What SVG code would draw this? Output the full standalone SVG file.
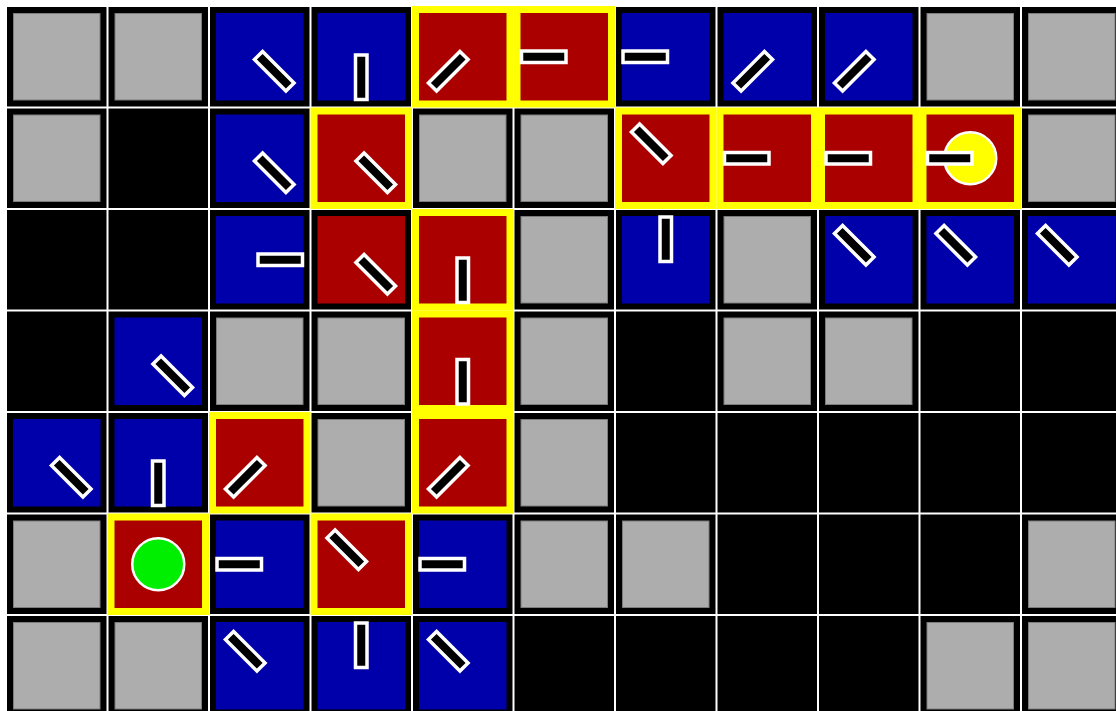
<svg xmlns="http://www.w3.org/2000/svg" xmlns:xlink="http://www.w3.org/1999/xlink" width="1116" height="711" viewBox="0 0 1116 711">
<style>
.k{fill:#000}
.y{fill:#ffff00}
.g{fill:#adadad;stroke:#7c7c7c;stroke-width:1}
.b{fill:#0000aa}
.r{fill:#aa0000}
.dot{stroke:#fff;stroke-width:2.5}
</style>
<defs>
<rect id="m" x="-1.75" y="-5.75" width="44.5" height="11.5" fill="#000" stroke="#fff" stroke-width="3.5"/>
<rect id="K" class="k" x="0" y="0" width="99.5" height="99.5"/>
<rect id="Yb" class="y" x="-1" y="-1" width="101.5" height="101.5"/>
<rect id="G" class="g" x="6.5" y="6.5" width="86.5" height="86.5"/>
<rect id="B" class="b" x="6" y="6" width="87.5" height="87.5"/>
<rect id="R" class="r" x="6" y="6" width="87.5" height="87.5"/>
</defs>
<rect x="0" y="0" width="1116" height="711" fill="#fff"/>
<g id="cells">
<!-- row 0 -->
<g id="c0-0" transform="translate(7,7)"><use href="#K"/><use href="#G"/></g>
<g id="c1-0" transform="translate(108.5,7)"><use href="#K"/><use href="#G"/></g>
<g id="c2-0" transform="translate(210,7)"><use href="#K"/><use href="#B"/><use href="#m" transform="translate(49.75,49.75) rotate(45)"/></g>
<g id="c3-0" transform="translate(311.5,7)"><use href="#K"/><use href="#B"/><use href="#m" transform="translate(49.75,49.75) rotate(90)"/></g>
<g id="c4-0" transform="translate(413,7)"><use href="#Yb"/><use href="#R"/><use href="#m" transform="translate(49.75,49.75) rotate(135)"/></g>
<g id="c5-0" transform="translate(514.5,7)"><use href="#Yb"/><use href="#R"/><use href="#m" transform="translate(49.75,49.75) rotate(180)"/></g>
<g id="c6-0" transform="translate(616,7)"><use href="#K"/><use href="#B"/><use href="#m" transform="translate(49.75,49.75) rotate(180)"/></g>
<g id="c7-0" transform="translate(717.5,7)"><use href="#K"/><use href="#B"/><use href="#m" transform="translate(49.75,49.75) rotate(135)"/></g>
<g id="c8-0" transform="translate(819,7)"><use href="#K"/><use href="#B"/><use href="#m" transform="translate(49.75,49.75) rotate(135)"/></g>
<g id="c9-0" transform="translate(920.5,7)"><use href="#K"/><use href="#G"/></g>
<g id="c10-0" transform="translate(1022,7)"><use href="#K"/><use href="#G"/></g>
<!-- row 1 -->
<g id="c0-1" transform="translate(7,108.5)"><use href="#K"/><use href="#G"/></g>
<g id="c1-1" transform="translate(108.5,108.5)"><use href="#K"/></g>
<g id="c2-1" transform="translate(210,108.5)"><use href="#K"/><use href="#B"/><use href="#m" transform="translate(49.75,49.75) rotate(45)"/></g>
<g id="c3-1" transform="translate(311.5,108.5)"><use href="#Yb"/><use href="#R"/><use href="#m" transform="translate(49.75,49.75) rotate(45)"/></g>
<g id="c4-1" transform="translate(413,108.5)"><use href="#K"/><use href="#G"/></g>
<g id="c5-1" transform="translate(514.5,108.5)"><use href="#K"/><use href="#G"/></g>
<g id="c6-1" transform="translate(616,108.5)"><use href="#Yb"/><use href="#R"/><use href="#m" transform="translate(49.75,49.75) rotate(225)"/></g>
<g id="c7-1" transform="translate(717.5,108.5)"><use href="#Yb"/><use href="#R"/><use href="#m" transform="translate(49.75,49.75) rotate(180)"/></g>
<g id="c8-1" transform="translate(819,108.5)"><use href="#Yb"/><use href="#R"/><use href="#m" transform="translate(49.75,49.75) rotate(180)"/></g>
<g id="c9-1" transform="translate(920.5,108.5)"><use href="#Yb"/><use href="#R"/><circle class="dot" cx="49.75" cy="49.75" r="26" fill="#ffff00"/><use href="#m" transform="translate(49.75,49.75) rotate(180)"/></g>
<g id="c10-1" transform="translate(1022,108.5)"><use href="#K"/><use href="#G"/></g>
<!-- row 2 -->
<g id="c0-2" transform="translate(7,210)"><use href="#K"/></g>
<g id="c1-2" transform="translate(108.5,210)"><use href="#K"/></g>
<g id="c2-2" transform="translate(210,210)"><use href="#K"/><use href="#B"/><use href="#m" transform="translate(49.75,49.75) rotate(0)"/></g>
<g id="c3-2" transform="translate(311.5,210)"><use href="#K"/><use href="#R"/><use href="#m" transform="translate(49.75,49.75) rotate(45)"/></g>
<g id="c4-2" transform="translate(413,210)"><use href="#Yb"/><use href="#R"/><use href="#m" transform="translate(49.75,49.75) rotate(90)"/></g>
<g id="c5-2" transform="translate(514.5,210)"><use href="#K"/><use href="#G"/></g>
<g id="c6-2" transform="translate(616,210)"><use href="#K"/><use href="#B"/><use href="#m" transform="translate(49.75,49.75) rotate(270)"/></g>
<g id="c7-2" transform="translate(717.5,210)"><use href="#K"/><use href="#G"/></g>
<g id="c8-2" transform="translate(819,210)"><use href="#K"/><use href="#B"/><use href="#m" transform="translate(49.75,49.75) rotate(225)"/></g>
<g id="c9-2" transform="translate(920.5,210)"><use href="#K"/><use href="#B"/><use href="#m" transform="translate(49.75,49.75) rotate(225)"/></g>
<g id="c10-2" transform="translate(1022,210)"><use href="#K"/><use href="#B"/><use href="#m" transform="translate(49.75,49.75) rotate(225)"/></g>
<!-- row 3 -->
<g id="c0-3" transform="translate(7,311.5)"><use href="#K"/></g>
<g id="c1-3" transform="translate(108.5,311.5)"><use href="#K"/><use href="#B"/><use href="#m" transform="translate(49.75,49.75) rotate(45)"/></g>
<g id="c2-3" transform="translate(210,311.5)"><use href="#K"/><use href="#G"/></g>
<g id="c3-3" transform="translate(311.5,311.5)"><use href="#K"/><use href="#G"/></g>
<g id="c4-3" transform="translate(413,311.5)"><use href="#Yb"/><use href="#R"/><use href="#m" transform="translate(49.75,49.75) rotate(90)"/></g>
<g id="c5-3" transform="translate(514.5,311.5)"><use href="#K"/><use href="#G"/></g>
<g id="c6-3" transform="translate(616,311.5)"><use href="#K"/></g>
<g id="c7-3" transform="translate(717.5,311.5)"><use href="#K"/><use href="#G"/></g>
<g id="c8-3" transform="translate(819,311.5)"><use href="#K"/><use href="#G"/></g>
<g id="c9-3" transform="translate(920.5,311.5)"><use href="#K"/></g>
<g id="c10-3" transform="translate(1022,311.5)"><use href="#K"/></g>
<!-- row 4 -->
<g id="c0-4" transform="translate(7,413)"><use href="#K"/><use href="#B"/><use href="#m" transform="translate(49.75,49.75) rotate(45)"/></g>
<g id="c1-4" transform="translate(108.5,413)"><use href="#K"/><use href="#B"/><use href="#m" transform="translate(49.75,49.75) rotate(90)"/></g>
<g id="c2-4" transform="translate(210,413)"><use href="#Yb"/><use href="#R"/><use href="#m" transform="translate(49.75,49.75) rotate(135)"/></g>
<g id="c3-4" transform="translate(311.5,413)"><use href="#K"/><use href="#G"/></g>
<g id="c4-4" transform="translate(413,413)"><use href="#Yb"/><use href="#R"/><use href="#m" transform="translate(49.75,49.75) rotate(135)"/></g>
<g id="c5-4" transform="translate(514.5,413)"><use href="#K"/><use href="#G"/></g>
<g id="c6-4" transform="translate(616,413)"><use href="#K"/></g>
<g id="c7-4" transform="translate(717.5,413)"><use href="#K"/></g>
<g id="c8-4" transform="translate(819,413)"><use href="#K"/></g>
<g id="c9-4" transform="translate(920.5,413)"><use href="#K"/></g>
<g id="c10-4" transform="translate(1022,413)"><use href="#K"/></g>
<!-- row 5 -->
<g id="c0-5" transform="translate(7,514.5)"><use href="#K"/><use href="#G"/></g>
<g id="c1-5" transform="translate(108.5,514.5)"><use href="#Yb"/><use href="#R"/><circle class="dot" cx="49.75" cy="49.75" r="26" fill="#00ee00"/></g>
<g id="c2-5" transform="translate(210,514.5)"><use href="#K"/><use href="#B"/><use href="#m" transform="translate(49.75,49.75) rotate(180)"/></g>
<g id="c3-5" transform="translate(311.5,514.5)"><use href="#Yb"/><use href="#R"/><use href="#m" transform="translate(49.75,49.75) rotate(225)"/></g>
<g id="c4-5" transform="translate(413,514.5)"><use href="#K"/><use href="#B"/><use href="#m" transform="translate(49.75,49.75) rotate(180)"/></g>
<g id="c5-5" transform="translate(514.5,514.5)"><use href="#K"/><use href="#G"/></g>
<g id="c6-5" transform="translate(616,514.5)"><use href="#K"/><use href="#G"/></g>
<g id="c7-5" transform="translate(717.5,514.5)"><use href="#K"/></g>
<g id="c8-5" transform="translate(819,514.5)"><use href="#K"/></g>
<g id="c9-5" transform="translate(920.5,514.5)"><use href="#K"/></g>
<g id="c10-5" transform="translate(1022,514.5)"><use href="#K"/><use href="#G"/></g>
<!-- row 6 -->
<g id="c0-6" transform="translate(7,616)"><use href="#K"/><use href="#G"/></g>
<g id="c1-6" transform="translate(108.5,616)"><use href="#K"/><use href="#G"/></g>
<g id="c2-6" transform="translate(210,616)"><use href="#K"/><use href="#B"/><use href="#m" transform="translate(49.75,49.75) rotate(225)"/></g>
<g id="c3-6" transform="translate(311.5,616)"><use href="#K"/><use href="#B"/><use href="#m" transform="translate(49.75,49.75) rotate(270)"/></g>
<g id="c4-6" transform="translate(413,616)"><use href="#K"/><use href="#B"/><use href="#m" transform="translate(49.75,49.75) rotate(225)"/></g>
<g id="c5-6" transform="translate(514.5,616)"><use href="#K"/></g>
<g id="c6-6" transform="translate(616,616)"><use href="#K"/></g>
<g id="c7-6" transform="translate(717.5,616)"><use href="#K"/></g>
<g id="c8-6" transform="translate(819,616)"><use href="#K"/></g>
<g id="c9-6" transform="translate(920.5,616)"><use href="#K"/><use href="#G"/></g>
<g id="c10-6" transform="translate(1022,616)"><use href="#K"/><use href="#G"/></g>
</g>
</svg>
